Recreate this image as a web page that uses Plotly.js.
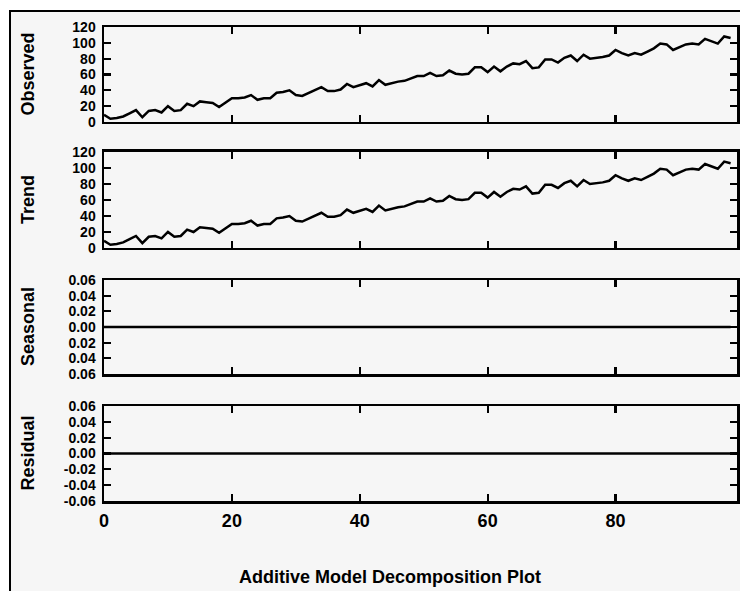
<!DOCTYPE html>
<html>
<head>
<meta charset="utf-8">
<script src="https://cdn.plot.ly/plotly-3.0.1.min.js"></script>
<style>
  html, body { margin: 0; padding: 0; background: #ffffff; overflow: hidden; width: 740px; height: 591px; }
  #chart { position: absolute; left: 9px; top: 10px; width: 740px; height: 590px;
           border-left: 2px solid #000; border-top: 2px solid #000; background: #f6f6f6; }
</style>
</head>
<body>
<div id="chart"></div>
<script>
// ---- data ----
const observed = [9, 4, 5, 7, 11, 15, 6, 14, 15, 12,
  20, 14, 15, 23, 20, 26, 25, 24, 19, 25,
  30, 30, 31, 34, 28, 30, 30, 37, 38, 40,
  34, 33, 37, 40, 44, 39, 39, 41, 48, 44,
  47, 49, 45, 53, 47, 49, 51, 52, 55, 58,
  58, 62, 58, 59, 65, 61, 60, 61, 69, 69,
  63, 70, 64, 70, 74, 73, 77, 68, 69, 79,
  79, 75, 81, 84, 77, 85, 80, 81, 82, 84,
  91, 87, 84, 87, 85, 89, 93, 99, 98, 91,
  94, 98, 99, 98, 105, 102, 99, 108, 106];
const trend = [9, 4, 5, 7, 11, 15, 6, 14, 15, 12,
  20, 14, 15, 23, 20, 26, 25, 24, 19, 25,
  30, 30, 31, 34, 28, 30, 30, 37, 38, 40,
  34, 33, 37, 40, 44, 39, 39, 41, 48, 44,
  47, 49, 45, 53, 47, 49, 51, 52, 55, 58,
  58, 62, 58, 59, 65, 61, 60, 61, 69, 69,
  63, 70, 64, 70, 74, 73, 77, 68, 69, 79,
  79, 75, 81, 84, 77, 85, 80, 81, 82, 84,
  91, 87, 84, 87, 85, 89, 93, 99, 98, 91,
  94, 98, 99, 98, 105, 102, 99, 108, 106];
const seasonal = new Array(observed.length).fill(0);
const residual = new Array(observed.length).fill(0);
const xIndex = observed.map((_, i) => i);

const panelLabels = ["Observed", "Trend", "Seasonal", "Residual"];
const xTickVals = [0, 20, 40, 60, 80];
const bigTickVals = [0, 20, 40, 60, 80, 100, 120];
const smallTickVals = [-0.06, -0.04, -0.02, 0, 0.02, 0.04, 0.06];
const seasonalTickText = ["0.06", "0.04", "0.02", "0.00", "0.02", "0.04", "0.06"];
const residualTickText = ["-0.06", "-0.04", "-0.02", "0.00", "0.02", "0.04", "0.06"];
const plotTitle = "Additive Model Decomposition Plot";

// ---- drawing ----
const FONT = "Liberation Sans, Arial, Helvetica, sans-serif";
const lineStyle = { color: "#000000", width: 2.5 };
const series = [observed, trend, seasonal, residual];
const traces = series.map((s, i) => ({
  type: "scatter", mode: "lines", x: xIndex, y: s,
  xaxis: i === 0 ? "x" : "x" + (i + 1),
  yaxis: i === 0 ? "y" : "y" + (i + 1),
  line: lineStyle, hoverinfo: "skip", showlegend: false
}));

const domains = [[0.7996, 1], [0.5338, 0.7363], [0.2679, 0.4662], [0, 0.2004]];
const axisCommon = {
  showline: true, linecolor: "#000", linewidth: 2.5, mirror: "ticks",
  ticks: "inside", ticklen: 7, tickwidth: 2.2, tickcolor: "#000",
  showgrid: false, zeroline: false, fixedrange: true
};
const layout = {
  width: 740, height: 590,
  margin: { l: 93, r: 14, t: 15, b: 101 },
  paper_bgcolor: "#f6f6f6", plot_bgcolor: "#f6f6f6",
  font: { family: FONT, color: "#000", weight: 700 },
  showlegend: false,
  annotations: []
};
for (let i = 0; i < 4; i++) {
  const xa = i === 0 ? "xaxis" : "xaxis" + (i + 1);
  const ya = i === 0 ? "yaxis" : "yaxis" + (i + 1);
  layout[xa] = Object.assign({}, axisCommon, {
    range: [0, 99], anchor: i === 0 ? "y" : "y" + (i + 1),
    tickvals: xTickVals, showticklabels: i === 3,
    tickfont: { family: FONT, size: 18, weight: 700 },
    ticklabelstandoff: 2
  });
  if (i > 0) layout[xa].matches = "x";
  const yOpts = Object.assign({}, axisCommon, {
    domain: domains[i], anchor: i === 0 ? "x" : "x" + (i + 1),
    tickfont: { family: FONT, size: 14, weight: 700 },
    ticklabelstandoff: 3
  });
  if (i < 2) {
    yOpts.range = [0, 120];
    yOpts.tickvals = bigTickVals;
  } else {
    yOpts.range = [-0.06, 0.06];
    yOpts.tickvals = smallTickVals;
    yOpts.ticktext = i === 2 ? seasonalTickText : residualTickText;
  }
  layout[ya] = yOpts;
  layout.annotations.push({
    text: panelLabels[i], xref: "paper", yref: "paper",
    x: 0, xshift: -76, y: (domains[i][0] + domains[i][1]) / 2,
    xanchor: "center", yanchor: "middle", textangle: -90, showarrow: false,
    font: { family: FONT, size: 18, weight: 700, color: "#000" }
  });
}
layout.annotations.push({
  text: plotTitle, xref: "paper", yref: "paper",
  x: 0.4518, y: -0.1603, xanchor: "center", yanchor: "middle", showarrow: false,
  font: { family: FONT, size: 18, weight: 700, color: "#000" }
});

Plotly.newPlot("chart", traces, layout, { staticPlot: true, displayModeBar: false });
</script>
</body>
</html>
